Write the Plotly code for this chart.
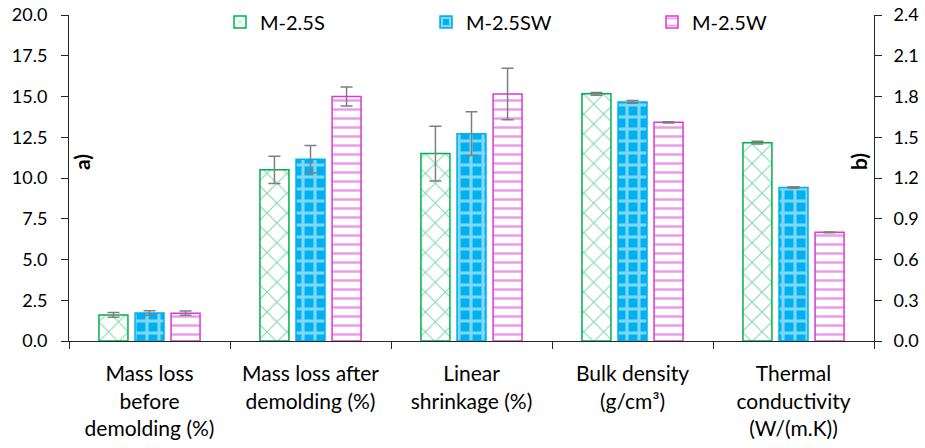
import plotly.graph_objects as go

# Property categories (first three on the left axis, last two on the right axis)
categories = [
    "Mass loss<br>before<br>demolding (%)",
    "Mass loss after<br>demolding (%)",
    "Linear<br>shrinkage (%)",
    "Bulk density<br>(g/cm³)",
    "Thermal<br>conductivity<br>(W/(m.K))",
]
series_names = ["M-2.5S", "M-2.5SW", "M-2.5W"]

# Left-axis properties: mass losses and linear shrinkage (%)
left_s = [1.6, 10.5, 11.5]
left_s_err = [0.15, 0.83, 1.68]
left_sw = [1.72, 11.15, 12.72]
left_sw_err = [0.14, 0.84, 1.34]
left_w = [1.71, 15.0, 15.15]
left_w_err = [0.13, 0.58, 1.58]

# Right-axis properties: bulk density and thermal conductivity
right_s = [1.82, 1.46]
right_s_err = [0.01, 0.01]
right_sw = [1.76, 1.13]
right_sw_err = [0.01, 0.005]
right_w = [1.61, 0.80]
right_w_err = [0.005, 0.003]

left_ticks = [0, 2.5, 5, 7.5, 10, 12.5, 15, 17.5, 20]
right_ticks = [0, 0.3, 0.6, 0.9, 1.2, 1.5, 1.8, 2.1, 2.4]

FONT = "Lato"
GREEN = "#00B050"
BLUE = "#00B0F0"
MAGENTA = "#D93BCF"
ERR = "#7F7F7F"

styles = [
    dict(color="white", line=dict(color=GREEN, width=1.5),
         pattern=dict(shape="x", fgcolor=GREEN, bgcolor="white", size=14,
                      solidity=0.14, fillmode="overlay")),
    dict(color=BLUE, line=dict(color=BLUE, width=1.5),
         pattern=dict(shape="+", fgcolor="white", bgcolor=BLUE, size=12,
                      solidity=0.45, fillmode="overlay")),
    dict(color="white", line=dict(color=MAGENTA, width=1.5),
         pattern=dict(shape="-", fgcolor=MAGENTA, bgcolor="white", size=9,
                      solidity=0.28, fillmode="overlay")),
]

bar_width = 0.18
offsets = [-0.314, -0.09, 0.134]
legends = ["legend", "legend2", "legend3"]

left_vals = [(left_s, left_s_err), (left_sw, left_sw_err), (left_w, left_w_err)]
right_vals = [(right_s, right_s_err), (right_sw, right_sw_err), (right_w, right_w_err)]

fig = go.Figure()
for i, name in enumerate(series_names):
    vals, errs = left_vals[i]
    fig.add_trace(go.Bar(
        x=categories[:3], y=vals, name=name, yaxis="y",
        width=bar_width, offset=offsets[i], marker=styles[i],
        error_y=dict(type="data", array=errs, color=ERR, thickness=1.5, width=6),
        legend=legends[i], legendgroup=name, showlegend=True,
    ))
    vals, errs = right_vals[i]
    fig.add_trace(go.Bar(
        x=categories[3:], y=vals, name=name, yaxis="y2",
        width=bar_width, offset=offsets[i], marker=styles[i],
        error_y=dict(type="data", array=errs, color=ERR, thickness=1.5, width=6),
        legend=legends[i], legendgroup=name, showlegend=False,
    ))

# Plot area in pixels: x 69..874, y 15..341
PX_L, PX_R, PX_T, PX_B = 69, 874, 15, 341


def px_x(px):
    return (px - PX_L) / (PX_R - PX_L)


def px_y(py):
    return (PX_B - py) / (PX_B - PX_T)


axis_color = "#262626"
legend_common = dict(orientation="h", xref="paper", yref="paper",
                     xanchor="left", yanchor="middle", bgcolor="rgba(0,0,0,0)",
                     font=dict(family=FONT, size=20, color="black"),
                     itemwidth=30)

fig.update_layout(
    width=925, height=448,
    margin=dict(l=PX_L, r=925 - PX_R, t=PX_T, b=448 - PX_B, autoexpand=False),
    paper_bgcolor="white", plot_bgcolor="white",
    barmode="overlay",
    font=dict(family=FONT, size=20, color="black"),
    xaxis=dict(
        type="category", categoryorder="array", categoryarray=categories,
        range=[-0.5, 4.5], tickson="boundaries", ticks="outside", ticklen=7,
        tickcolor=axis_color, showline=True, linecolor=axis_color, linewidth=1,
        showgrid=False, automargin=False, ticklabelstandoff=14,
        tickfont=dict(family=FONT, size=21, color="black"),
    ),
    xaxis2=dict(
        overlaying="x", anchor="y", range=[-0.5, 4.5],
        tickmode="array", tickvals=[-0.5, 0.5, 1.5, 2.5, 3.5, 4.5],
        ticks="inside", ticklen=7, tickcolor=axis_color, automargin=False,
        showticklabels=False, showgrid=False, zeroline=False, showline=False,
    ),
    yaxis=dict(
        range=[0, 20], tickmode="array", tickvals=left_ticks, tickformat=".1f",
        ticks="outside", ticklen=7, tickcolor=axis_color,
        showline=True, linecolor=axis_color, linewidth=1,
        showgrid=False, zeroline=False, automargin=False, ticklabelstandoff=10,
        tickfont=dict(family=FONT, size=18, color="black"),
    ),
    yaxis2=dict(
        overlaying="y", side="right", anchor="x",
        range=[0, 2.4], tickmode="array", tickvals=right_ticks, tickformat=".1f",
        ticks="outside", ticklen=7, tickcolor=axis_color,
        showline=True, linecolor=axis_color, linewidth=1,
        showgrid=False, zeroline=False, automargin=False, ticklabelstandoff=8,
        tickfont=dict(family=FONT, size=18, color="black"),
    ),
    legend=dict(x=px_x(220), y=px_y(22), **legend_common),
    legend2=dict(x=px_x(426), y=px_y(22), **legend_common),
    legend3=dict(x=px_x(652), y=px_y(22), **legend_common),
    annotations=[
        dict(text="<b>a)</b>", x=px_x(82), y=px_y(162),
             xref="paper", yref="paper", xanchor="center", yanchor="middle",
             textangle=-90, showarrow=False,
             font=dict(family=FONT, size=21, color="black")),
        dict(text="<b>b)</b>", x=px_x(859), y=px_y(162),
             xref="paper", yref="paper", xanchor="center", yanchor="middle",
             textangle=-90, showarrow=False,
             font=dict(family=FONT, size=21, color="black")),
    ],
)

fig.write_html("out.html")
